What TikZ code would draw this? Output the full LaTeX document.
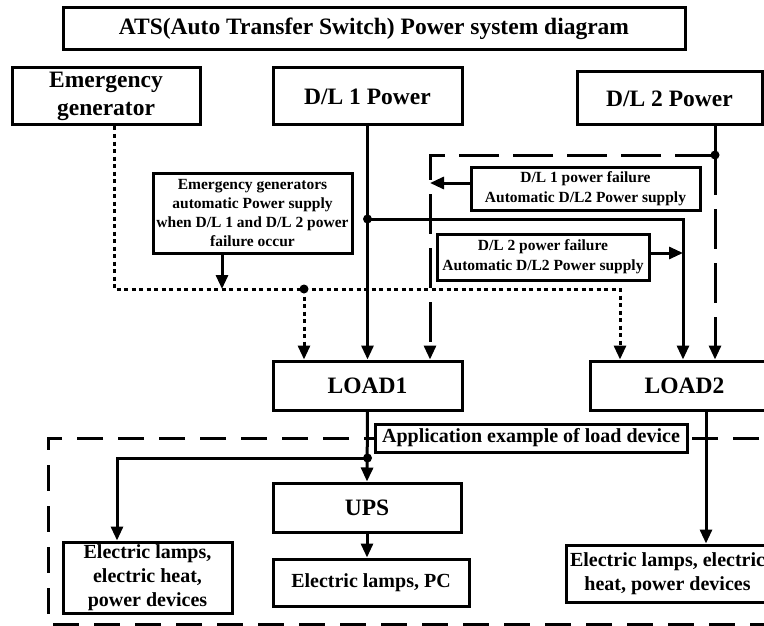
\documentclass[tikz,border=0pt]{standalone}
\usepackage{fontspec}
\setmainfont{Liberation Serif}
\usetikzlibrary{arrows.meta}
\begin{document}
\begin{tikzpicture}[x=1pt,y=-1pt,
 box/.style={draw, line width=3pt, fill=white, inner sep=0pt, align=center, font=\bfseries\fontsize{23.5}{28}\selectfont},
 smallbox/.style={box, font=\bfseries\fontsize{15.5}{19}\selectfont},
 midbox/.style={box, font=\bfseries\fontsize{20}{24}\selectfont},
 wire/.style={line width=3pt},
 arr/.style={wire, -{Triangle[length=14pt,width=12pt]}},
 dotw/.style={wire, dash pattern=on 4pt off 3.5pt},
 dotarr/.style={arr, dash pattern=on 4pt off 3.5pt},
 dasharr/.style={arr, dash pattern=on 40pt off 14pt},
 bigdash/.style={wire, dash pattern=on 26pt off 15pt}
]
\useasboundingbox (0,0) rectangle (764,626);
\clip (0,0) rectangle (764,626);
\fill[white] (0,0) rectangle (764,626);

% load device frame
\draw[bigdash] (800,438) -| (48,624) -- (800,624);

% nodes
\node[box, minimum width=622pt, minimum height=42pt] (title) at (374,29) {ATS(Auto Transfer Switch) Power system diagram};
\node[box, minimum width=188pt, minimum height=57pt] (eg) at (106,96.5) {Emergency\\generator};
\node[box, minimum width=189pt, minimum height=57pt] (dl1) at (367.5,96.5) {D/L 1 Power};
\node[box, minimum width=185pt, minimum height=53pt] (dl2) at (669.5,98.5) {D/L 2 Power};
\node[smallbox, minimum width=199pt, minimum height=80pt] (eg2) at (252.5,213) {Emergency generators\\automatic Power supply\\when D/L 1 and D/L 2 power\\failure occur};
\node[smallbox, minimum width=229pt, minimum height=43pt, font=\bfseries\fontsize{15.5}{20}\selectfont] (f1) at (585.5,188.5) {D/L 1 power failure\\Automatic D/L2 Power supply};
\node[smallbox, minimum width=212pt, minimum height=46pt, font=\bfseries\fontsize{15.5}{20}\selectfont] (f2) at (543,257) {D/L 2 power failure\\Automatic D/L2 Power supply};
\node[box, minimum width=189pt, minimum height=49pt] (load1) at (367.5,385.5) {LOAD1};
\node[box, minimum width=189pt, minimum height=49pt] (load2) at (684.5,385.5) {LOAD2};
\node[midbox, minimum width=312pt, minimum height=28pt] (app) at (531,438) {Application example of load device};
\node[box, minimum width=188pt, minimum height=49pt] (ups) at (367,507.5) {UPS};
\node[midbox, minimum width=196pt, minimum height=47pt] (pc) at (371,582.5) {Electric lamps, PC};
\node[midbox, minimum width=169pt, minimum height=71pt] (lb) at (147.5,577.5) {Electric lamps,\\electric heat,\\power devices};
\node[midbox, minimum width=203pt, minimum height=57pt] (rb) at (667.5,573.5) {Electric lamps, electric\\heat, power devices};

% junctions
\coordinate (j1) at (304,289);
\coordinate (j2) at (367.5,219);
\coordinate (j3) at (715,155);
\coordinate (j4) at (367.5,458);
\coordinate (k1) at (430,183);
\coordinate (k2) at (683,253);

% emergency generator (dotted)
\draw[dotw] ([xshift=8pt]eg.south) |- (j1);
\draw[dotarr] (j1) -| ([xshift=-64.5pt]load2.north);
\draw[dotarr] (j1) -- (j1 |- load1.north);
\draw[arr] ([xshift=-30.5pt]eg2.south) -- ([xshift=-30.5pt]eg2.south |- j1);

% D/L 1
\draw[arr] (dl1.south) -- (load1.north);
\draw[arr] (j2) -| ([xshift=-1.5pt]load2.north);

% D/L 2
\draw[wire] (dl2.south -| j3) -- (j3);
\draw[dasharr] (j3) -| ([xshift=62.5pt]load1.north);
\draw[dasharr] (j3) -- (j3 |- load2.north);

% failure notes
\draw[arr] (f1.west |- k1) -- (k1);
\draw[arr] (f2.east |- k2) -- (k2);

% loads
\draw[arr] (load1.south) -- (ups.north);
\draw[arr] (j4) -| ([xshift=-30.5pt]lb.north);
\draw[arr] (ups.south) -- (ups.south |- pc.north);
\draw[arr] ([xshift=21.5pt]load2.south) -- ([xshift=21.5pt]load2.south |- rb.north);

% dots
\foreach \p in {j1,j2,j3,j4} \fill (\p) circle (4.5);
\end{tikzpicture}
\end{document}
